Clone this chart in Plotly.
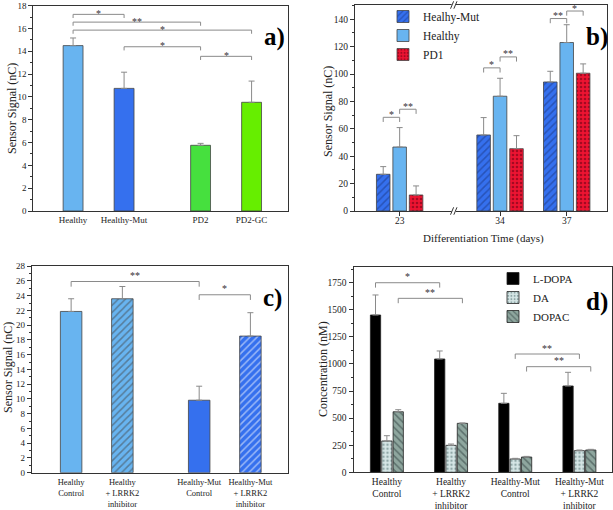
import plotly.graph_objects as go

W, H = 613, 510
FONT = "Liberation Serif, Times New Roman, serif"

# ---------------- data ----------------
# Panel a
cats_a = ["Healthy", "Healthy-Mut", "PD2", "PD2-GC"]
vals_a = [14.5, 10.75, 5.76, 9.53]
errs_a = [0.67, 1.42, 0.17, 1.86]

# Panel b
days_b = ["23", "34", "37"]
series_b = ["Healhy-Mut", "Healthy", "PD1"]
hm_b = [26.8, 55.5, 94.2]
hm_err_b = [5.6, 12.7, 7.8]
h_b = [46.7, 83.8, 123.0]
h_err_b = [14.2, 13.1, 13.0]
pd1_b = [11.7, 45.5, 100.6]
pd1_err_b = [6.6, 9.5, 6.8]

# Panel c
cats_c = ["Healthy<br>Control", "Healthy<br>+ LRRK2<br>inhibitor",
          "Healthy-Mut<br>Control", "Healthy-Mut<br>+ LRRK2<br>inhibitor"]
vals_c = [21.87, 23.59, 9.83, 18.53]
errs_c = [1.72, 1.66, 1.9, 3.17]

# Panel d
cats_d = ["Healthy<br>Control", "Healthy<br>+ LRRK2<br>inhibitor",
          "Healthy-Mut<br>Control", "Healthy-Mut<br>+ LRRK2<br>inhibitor"]
series_d = ["L-DOPA", "DA", "DOPAC"]
ldopa_d = [1452, 1046, 637, 797]
ldopa_err_d = [185, 74, 92, 126]
da_d = [289, 249, 123, 200]
da_err_d = [49, 12, 6, 6]
dopac_d = [559, 452, 141, 206]
dopac_err_d = [19, 3, 6, 6]
yticks_d = [0, 250, 500, 750, 1000, 1250, 1500, 1750]
yticktext_d = ["0", "250", "500", "750", "1000", "1250", "1500", "1750"]

# significance brackets
sig_a = [(0, 1, 17.24, "*"), (0, 2, 16.56, "**"), (0, 3, 15.86, "*"),
         (1, 2, 14.4, "*"), (2, 3, 13.56, "*")]
# (group, series left, series right, level, text)
sig_b = [(0, 0, 1, 68.4, "*"), (0, 1, 2, 74.3, "**"), (1, 0, 1, 104.5, "*"),
         (1, 1, 2, 112.5, "**"), (2, 0, 1, 140.5, "**"), (2, 1, 2, 146.0, "*")]
sig_c = [(0, 2, 25.93, "**"), (2, 3, 24.13, "*")]
# (group left, group right, series, level, text)
sig_d = [(0, 1, 0, 1750, "*"), (0, 1, 2, 1606, "**"),
         (2, 3, 1, 1092, "**"), (2, 3, 2, 975, "**")]

# ---------------- layout helpers ----------------
xpos_a = [1, 2, 3.5, 4.5]
xpos_c = [1, 2, 3.5, 4.5]
xpos_b = [0, 4.52, 7.52]
off_b = [-0.74, 0.0, 0.74]
xpos_d = [1, 2, 3, 4]
off_d = [-0.177, 0.0, 0.177]


def dom_x(x0, x1):
    return [x0 / W, x1 / W]


def dom_y(top, bottom):
    return [1 - bottom / H, 1 - top / H]


EDGE = "#444444"
ERR = dict(type="data", symmetric=False, color="#8a8a8a", thickness=1, width=3)

fig = go.Figure()

# Panel a
fig.add_trace(go.Bar(
    x=xpos_a, y=vals_a, width=0.39, xaxis="x", yaxis="y", showlegend=False,
    marker=dict(color=["#68b4f0", "#3570ee", "#46e03e", "#66ee00"],
                line=dict(color=EDGE, width=0.8)),
    error_y=dict(array=errs_a, arrayminus=[0] * 4, **ERR)))

# Panel b
b_vals = [hm_b, h_b, pd1_b]
b_errs = [hm_err_b, h_err_b, pd1_err_b]
b_colors = ["#3570ee", "#68b4f0", "#ee1432"]
b_pat = [dict(shape="/", fgcolor="#1a3580", bgcolor="#3570ee", size=5, solidity=0.3),
         dict(shape=""),
         dict(shape=".", fgcolor="#5a0010", bgcolor="#ee1432", size=4, solidity=0.35)]
wb = 0.61
for k in range(3):
    fig.add_trace(go.Bar(
        x=xpos_b, y=b_vals[k], name=series_b[k], width=wb, offset=off_b[k] - wb / 2,
        xaxis="x2", yaxis="y2", legend="legend",
        marker=dict(color=b_colors[k], pattern=b_pat[k], line=dict(color=EDGE, width=0.8)),
        error_y=dict(array=b_errs[k], arrayminus=[0] * 3, **ERR)))

# Panel c
fig.add_trace(go.Bar(
    x=xpos_c, y=vals_c, width=0.42, xaxis="x3", yaxis="y3", showlegend=False,
    marker=dict(color=["#68b4f0", "#68b4f0", "#3570ee", "#3570ee"],
                pattern=dict(shape=["", "/", "", "/"],
                             fgcolor=["#68b4f0", "#2a5a9a", "#3570ee", "#1a3580"],
                             bgcolor=["#68b4f0", "#68b4f0", "#3570ee", "#3570ee"],
                             size=5, solidity=0.3),
                line=dict(color=EDGE, width=0.8)),
    error_y=dict(array=errs_c, arrayminus=[0] * 4, **ERR)))

# Panel d
d_vals = [ldopa_d, da_d, dopac_d]
d_errs = [ldopa_err_d, da_err_d, dopac_err_d]
d_colors = ["#000000", "#d6e6e6", "#8ea69e"]
d_pat = [dict(shape=""),
         dict(shape=".", fgcolor="#4a6a6a", bgcolor="#d6e6e6", size=4, solidity=0.3),
         dict(shape="\\", fgcolor="#2a3a3a", bgcolor="#8ea69e", size=5, solidity=0.3)]
wd = 0.16
for k in range(3):
    fig.add_trace(go.Bar(
        x=xpos_d, y=d_vals[k], name=series_d[k], width=wd, offset=off_d[k] - wd / 2,
        xaxis="x4", yaxis="y4", legend="legend2",
        marker=dict(color=d_colors[k], pattern=d_pat[k], line=dict(color="#222", width=0.8)),
        error_y=dict(array=d_errs[k], arrayminus=[0] * 4, **ERR)))

# ---------------- brackets ----------------
shapes = []
annotations = []
BR = dict(color="#8a8a8a", width=1)


def bracket(xr, yr, x1, x2, level, drop, text, yshift):
    shapes.append(dict(type="path", xref=xr, yref=yr, line=BR,
                       path=f"M{x1},{level - drop} L{x1},{level} L{x2},{level} L{x2},{level - drop}"))
    annotations.append(dict(x=(x1 + x2) / 2, y=level, xref=xr, yref=yr, text=text,
                            showarrow=False, yanchor="middle", yshift=yshift,
                            font=dict(family=FONT, size=10, color="#333")))


for i, j, lv, t in sig_a:
    bracket("x", "y", xpos_a[i], xpos_a[j], lv, 0.32, t, 1)
for g, s1, s2, lv, t in sig_b:
    bracket("x2", "y2", xpos_b[g] + off_b[s1], xpos_b[g] + off_b[s2], lv, 3.4, t, 3)
for i, j, lv, t in sig_c:
    bracket("x3", "y3", xpos_c[i], xpos_c[j], lv, 0.7, t, 6)
for g1, g2, s, lv, t in sig_d:
    bracket("x4", "y4", xpos_d[g1] + off_d[s], xpos_d[g2] + off_d[s], lv, 45, t, 6)

# axis break marks on panel b
bx = 2.36
for yc in (0.0, 1.0):
    shapes.append(dict(type="rect", xref="x2", yref="y2 domain", x0=bx - 0.02, x1=bx + 0.17,
                       y0=yc - 0.006, y1=yc + 0.006, fillcolor="white", line=dict(width=0)))
    for dxs in (0.0, 0.15):
        shapes.append(dict(type="line", xref="x2", yref="y2 domain",
                           x0=bx + dxs - 0.07, x1=bx + dxs + 0.07, y0=yc - 0.018, y1=yc + 0.018,
                           line=dict(color="#333", width=1)))

# panel labels
for txt, px, py in [("a)", 274, 37), ("b)", 597, 37), ("c)", 272, 298), ("d)", 597, 302)]:
    annotations.append(dict(x=px / W, y=1 - py / H, xref="paper", yref="paper", text=f"<b>{txt}</b>",
                            showarrow=False, xanchor="center", yanchor="middle",
                            font=dict(family=FONT, size=25, color="#000")))

# axis titles
for txt, px, py in [("Sensor Signal (nC)", 12, 109), ("Sensor Signal (nC)", 328, 112),
                    ("Sensor Signal (nC)", 8, 368), ("Concentration (nM)", 323, 369)]:
    annotations.append(dict(x=px / W, y=1 - py / H, xref="paper", yref="paper", text=txt,
                            textangle=-90, showarrow=False, xanchor="center", yanchor="middle",
                            font=dict(family=FONT, size=12, color="#222")))
annotations.append(dict(x=483 / W, y=1 - 238 / H, xref="paper", yref="paper",
                        text="Differentiation Time (days)", showarrow=False,
                        xanchor="center", yanchor="middle",
                        font=dict(family=FONT, size=11, color="#222")))

# ---------------- axes ----------------
base = dict(showline=True, linecolor="#333", linewidth=1, mirror=True, showgrid=False,
            zeroline=False, automargin=False, tickfont=dict(family=FONT, size=9, color="#222"))


def yax(dom, rng, dtick, mdtick, anchor):
    return dict(base, domain=dom, range=rng, dtick=dtick, tick0=0, ticks="outside", ticklen=4,
                tickcolor="#333", anchor=anchor,
                minor=dict(ticks="outside", ticklen=2, tickcolor="#333", dtick=mdtick, tick0=0))


fig.update_layout(
    width=W, height=H, margin=dict(l=0, r=0, t=0, b=0),
    paper_bgcolor="white", plot_bgcolor="white", barmode="overlay",
    font=dict(family=FONT, color="#222"),
    xaxis=dict(base, domain=dom_x(33.3, 288.3), range=[0.22, 5.22], tickmode="array",
               tickvals=xpos_a, ticktext=cats_a, ticks="", anchor="y"),
    yaxis=yax(dom_y(5.7, 211), [0, 18], 2, 1, "x"),
    xaxis2=dict(base, domain=dom_x(355, 606.7), range=[-2.01, 9.32], tickmode="array",
                tickvals=xpos_b, ticktext=days_b, ticks="outside", ticklen=4, tickcolor="#333",
                anchor="y2", tickfont=dict(family=FONT, size=9.5, color="#222"),
                ticklabelstandoff=-3),
    yaxis2=dict(yax(dom_y(5, 211), [0, 150.4], 20, 10, "x2"),
                tickfont=dict(family=FONT, size=9.5, color="#222")),
    xaxis3=dict(base, domain=dom_x(31.7, 288.3), range=[0.23, 5.24], tickmode="array",
                tickvals=xpos_c, ticktext=cats_c, ticks="outside", ticklen=1,
                tickcolor="rgba(0,0,0,0)", anchor="y3",
                tickfont=dict(family=FONT, size=8.5, color="#222")),
    yaxis3=yax(dom_y(265.5, 472.7), [0, 28.1], 2, 1, "x3"),
    xaxis4=dict(base, domain=dom_x(353.5, 611.5), range=[0.48, 4.5], tickmode="array",
                tickvals=xpos_d, ticktext=cats_d, ticks="", anchor="y4",
                tickfont=dict(family=FONT, size=9.5, color="#222")),
    yaxis4=dict(yax(dom_y(266.7, 472.3), [0, 1898], 250, 125, "x4"),
                tickmode="array", tickvals=yticks_d, ticktext=yticktext_d,
                tickfont=dict(family=FONT, size=9.5, color="#222")),
    legend=dict(x=383 / W, y=1 - 2 / H, xanchor="left", yanchor="top",
                font=dict(family=FONT, size=11.5, color="#222"), bgcolor="rgba(0,0,0,0)",
                borderwidth=0, tracegroupgap=0, traceorder="normal"),
    legend2=dict(x=493 / W, y=1 - 264 / H, xanchor="left", yanchor="top",
                 font=dict(family=FONT, size=11, color="#222"), bgcolor="rgba(0,0,0,0)",
                 borderwidth=0, tracegroupgap=0, traceorder="normal"),
    shapes=shapes, annotations=annotations,
)

fig.write_html("out.html", config={"displayModeBar": False},
               post_script="document.body.style.margin='0';document.body.style.overflow='hidden';")
